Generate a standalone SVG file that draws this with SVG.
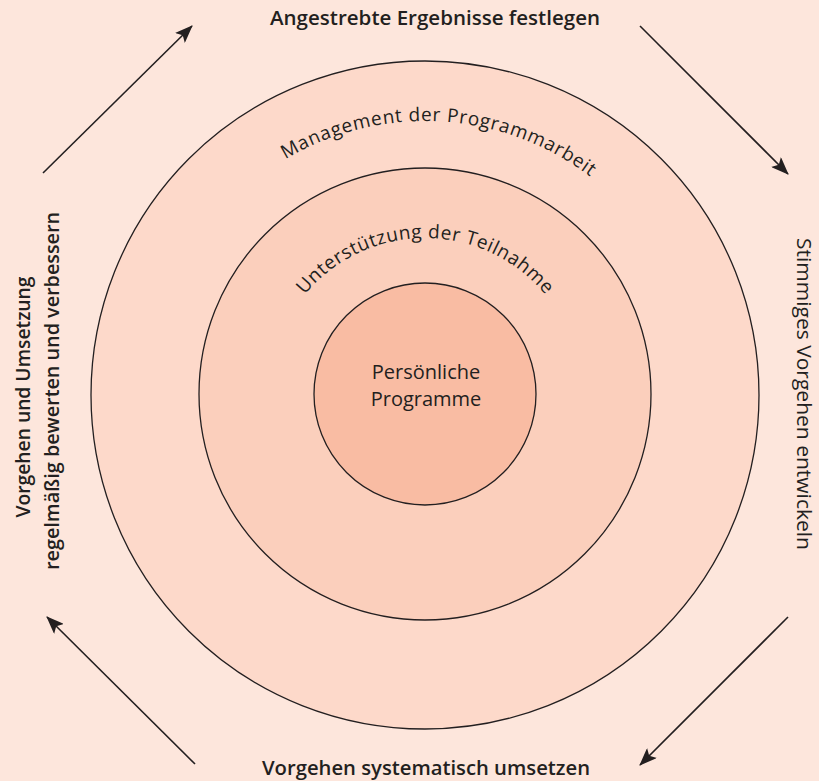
<svg xmlns="http://www.w3.org/2000/svg" width="819" height="781" viewBox="0 0 819 781">
<style>
.bg{fill:#fde6dc}
.ring{stroke:#231f20;stroke-width:1.3}
.t{font-family:"Open Sans","Noto Sans",sans-serif;fill:#231f20}
.b{font-weight:600;font-size:19px}
.c{font-size:19px}
.arr{stroke:#231f20;stroke-width:1.6;fill:none;marker-end:url(#ah)}
</style>
<defs>
<marker id="ah" markerUnits="userSpaceOnUse" markerWidth="18" markerHeight="14" viewBox="0 0 18 14" refX="17" refY="7" orient="auto">
<path d="M0,0 L18,7 L0,14 L4,7 z" fill="#231f20"/>
</marker>
<path id="arcOuter" d="M152,394 A273,273 0 0 1 698,394"/>
<path id="arcMid" d="M269,394 A156,156 0 0 1 581,394"/>
</defs>
<rect class="bg" x="0" y="0" width="819" height="781"/>
<g id="ring-outer">
<circle class="ring" cx="425" cy="395" r="334" fill="#fdd9ca"/>
<text class="t c"><textPath href="#arcOuter" startOffset="444" text-anchor="middle" textLength="324" lengthAdjust="spacing">Management der Programmarbeit</textPath></text>
</g>
<g id="ring-middle">
<circle class="ring" cx="425" cy="394" r="226" fill="#fbcfbc"/>
<text class="t c"><textPath href="#arcMid" startOffset="245" text-anchor="middle" textLength="275" lengthAdjust="spacing">Unterstützung der Teilnahme</textPath></text>
</g>
<g id="core">
<circle class="ring" cx="425" cy="394" r="111" fill="#f9bca3"/>
<text class="t" font-size="20" x="426" y="379" text-anchor="middle">Persönliche</text>
<text class="t" font-size="20" x="426" y="406" text-anchor="middle">Programme</text>
</g>
<g id="label-top">
<text class="t b" x="435" y="25" text-anchor="middle" textLength="330" lengthAdjust="spacingAndGlyphs">Angestrebte Ergebnisse festlegen</text>
</g>
<g id="label-right">
<text class="t" font-size="20" font-weight="500" transform="translate(797,394) rotate(90)" text-anchor="middle" textLength="312" lengthAdjust="spacingAndGlyphs">Stimmiges Vorgehen entwickeln</text>
</g>
<g id="label-bottom">
<text class="t b" x="426" y="775" text-anchor="middle" textLength="328" lengthAdjust="spacingAndGlyphs">Vorgehen systematisch umsetzen</text>
</g>
<g id="label-left">
<text class="t b" transform="translate(30,397) rotate(-90)" text-anchor="middle" textLength="241" lengthAdjust="spacingAndGlyphs">Vorgehen und Umsetzung</text>
<text class="t b" transform="translate(59,391) rotate(-90)" text-anchor="middle" textLength="358" lengthAdjust="spacingAndGlyphs">regelmäßig bewerten und verbessern</text>
</g>
<g id="connectors">
<line class="arr" x1="43" y1="173" x2="192" y2="26"/>
<line class="arr" x1="640" y1="26" x2="788" y2="174"/>
<line class="arr" x1="788" y1="617" x2="640" y2="765"/>
<line class="arr" x1="195" y1="764" x2="47" y2="617"/>
</g>
</svg>
